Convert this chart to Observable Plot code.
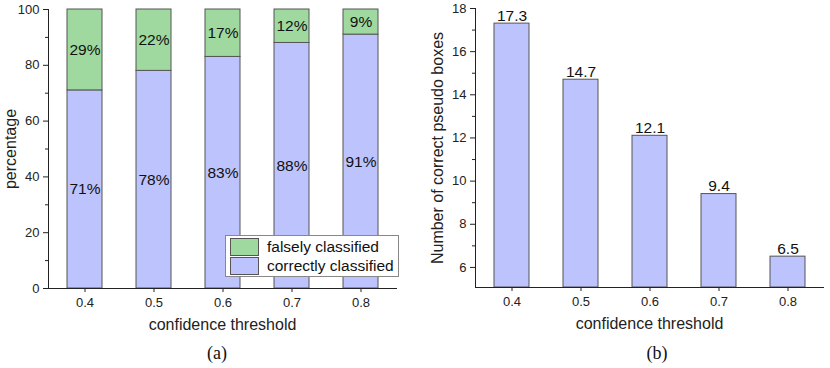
<!DOCTYPE html>
<html>
<head>
<meta charset="utf-8">
<script src="https://cdn.jsdelivr.net/npm/d3@7"></script>
<script src="https://cdn.jsdelivr.net/npm/@observablehq/plot@0.6"></script>
<style>
  html, body { margin: 0; padding: 0; background: #fff; }
  #wrap { position: relative; width: 830px; height: 368px; font-family: "Liberation Sans", Arial, sans-serif; }
  .panel { position: absolute; top: 0; }
  [aria-label$="axis label"] { font-size: 16px; }
  .cap { position: absolute; top: 343px; font-family: "Liberation Serif", "Times New Roman", serif; font-size: 18px; transform: translateX(-50%); color: #111; }
  #legend { position: absolute; left: 225px; top: 235px; width: 172px; height: 40px; border: 1px solid #888; background: #fff; font-size: 15.5px; color: #111; white-space: nowrap; }
  .row { position: absolute; left: 4px; height: 18px; display: flex; align-items: center; }
  .sw { width: 27px; height: 16px; border: 1px solid #555; margin-right: 8px; flex: none; }
</style>
</head>
<body>
<div id="wrap">
  <div id="a" class="panel" style="left:0"></div>
  <div id="b" class="panel" style="left:415px"></div>
  <div id="legend">
    <div class="row" style="top:2px"><div class="sw" style="background:#9fd99f"></div><span>falsely classified</span></div>
    <div class="row" style="top:21px"><div class="sw" style="background:#bcc3fd"></div><span>correctly classified</span></div>
  </div>
  <div class="cap" style="left:217px">(a)</div>
  <div class="cap" style="left:657px">(b)</div>
</div>
<script>
const thresholds = ["0.4", "0.5", "0.6", "0.7", "0.8"];
const correctPct = [71, 78, 83, 88, 91];
const falsePct = [29, 22, 17, 12, 9];
const seriesNames = ["correctly classified", "falsely classified"];
const seriesColors = ["#bcc3fd", "#9fd99f"];
const pctTicks = [0, 20, 40, 60, 80, 100];
const pctMinor = [10, 30, 50, 70, 90];
const boxes = [17.3, 14.7, 12.1, 9.4, 6.5];
const boxTicks = [6, 8, 10, 12, 14, 16, 18];
const boxMinor = [7, 9, 11, 13, 15, 17];

const stacked = [];
thresholds.forEach((t, i) => {
  stacked.push({t, s: seriesNames[0], v: correctPct[i]});
  stacked.push({t, s: seriesNames[1], v: falsePct[i]});
});
const boxData = thresholds.map((t, i) => ({t, v: boxes[i]}));

const H = 335;
const common = {
  style: {fontFamily: "'Liberation Sans', Arial, sans-serif", fontSize: "13px", color: "#222", background: "#fff"}
};

const chartA = Plot.plot({
  ...common,
  width: 415, height: H,
  marginLeft: 48, marginRight: 19, marginTop: 9, marginBottom: H - 288,
  x: {type: "band", domain: thresholds, paddingInner: 0.5, paddingOuter: 0.25},
  y: {domain: [0, 100]},
  color: {domain: seriesNames, range: seriesColors},
  marks: [
    Plot.barY(stacked, {x: "t", y: "v", fill: "s", stroke: "#555", strokeWidth: 1}),
    Plot.text(stacked, Plot.stackY({x: "t", y: "v", text: d => d.v + "%", fontSize: 15.5, fill: "#111"})),
    Plot.axisY({ticks: pctTicks, tickSize: 5, tickPadding: 4, label: "percentage", labelAnchor: "center", labelOffset: 44, labelArrow: "none"}),
    Plot.axisY({ticks: pctMinor, tickSize: 3, tickFormat: () => "", label: null}),
    Plot.axisX({tickSize: 4, tickPadding: 5, label: "confidence threshold", labelAnchor: "center", labelOffset: 41, labelArrow: "none"}),
    Plot.frame({anchor: "left", stroke: "#222"}),
    Plot.frame({anchor: "bottom", stroke: "#222"})
  ]
});
document.getElementById("a").append(chartA);

const chartB = Plot.plot({
  ...common,
  width: 415, height: H,
  marginLeft: 60, marginRight: 7, marginTop: 8, marginBottom: H - 287,
  x: {type: "band", domain: thresholds, paddingInner: 0.5, paddingOuter: 0.25},
  y: {domain: [5.07, 18]},
  marks: [
    Plot.barY(boxData, {x: "t", y1: 5.07, y2: "v", fill: seriesColors[0], stroke: "#555", strokeWidth: 1}),
    Plot.text(boxData, {x: "t", y: "v", text: d => d.v.toFixed(1), lineAnchor: "bottom", dy: -3, fontSize: 15.5, fill: "#111"}),
    Plot.axisY({ticks: boxTicks, tickSize: 5, tickPadding: 4, label: "Number of correct pseudo boxes", labelAnchor: "center", labelOffset: 44, labelArrow: "none"}),
    Plot.axisY({ticks: boxMinor, tickSize: 3, tickFormat: () => "", label: null}),
    Plot.axisX({tickSize: 4, tickPadding: 5, label: "confidence threshold", labelAnchor: "center", labelOffset: 41, labelArrow: "none"}),
    Plot.frame({anchor: "left", stroke: "#222"}),
    Plot.frame({anchor: "bottom", stroke: "#222"})
  ]
});
document.getElementById("b").append(chartB);
</script>
</body>
</html>
